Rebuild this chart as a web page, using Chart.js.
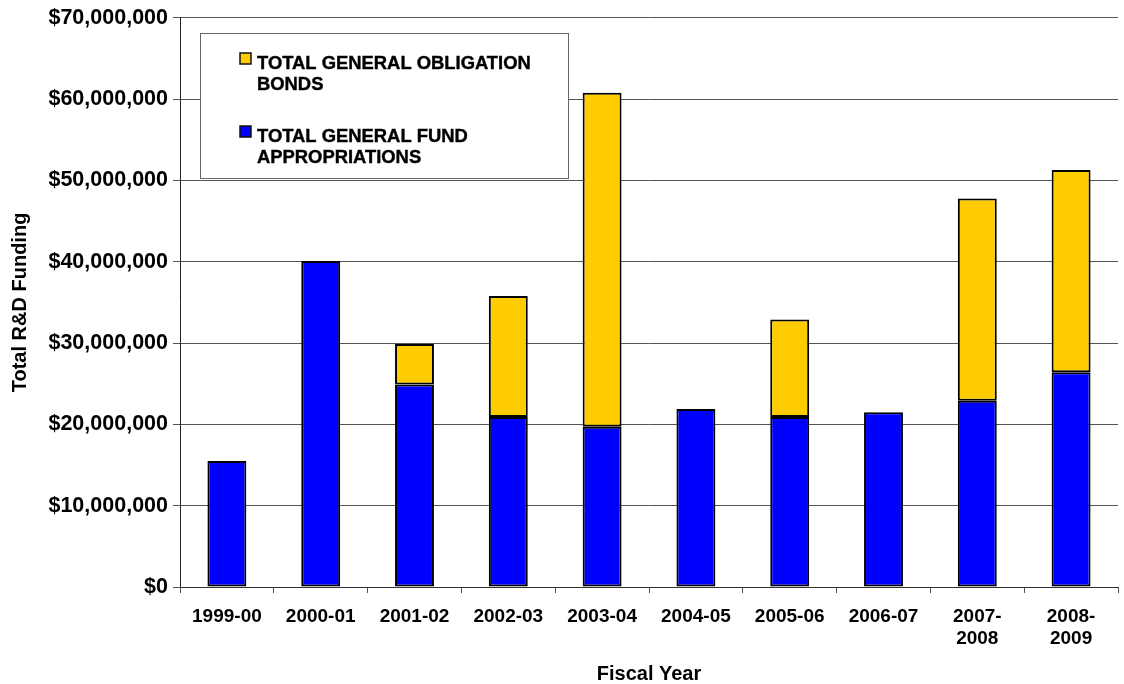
<!DOCTYPE html>
<html>
<head>
<meta charset="utf-8">
<script src="https://cdn.jsdelivr.net/npm/chart.js@4.4.1/dist/chart.umd.min.js"></script>
<style>
  html, body { margin: 0; padding: 0; background: #fff; }
  #wrap { width: 1124px; height: 684px; }
</style>
</head>
<body>
<div id="wrap"><canvas id="rdChart" width="1124" height="684"></canvas></div>
<script>
// data
const fiscalYears = ['1999-00', '2000-01', '2001-02', '2002-03', '2003-04',
  '2004-05', '2005-06', '2006-07', ['2007-', '2008'], ['2008-', '2009']];
const generalFund = [15500000, 40100000, 24900000, 20900000, 19700000,
  21900000, 20900000, 21500000, 22900000, 26400000];
const obligationBonds = [null, null, 5000000, 14900000, 41100000,
  null, 12000000, null, 24900000, 24900000];
const yTicks = [0, 10000000, 20000000, 30000000, 40000000, 50000000, 60000000, 70000000];

const FONT = "'Liberation Sans', Arial, sans-serif";

// boxed legend in the top left of the plot, bonds listed first
const boxLegend = {
  id: 'boxLegend',
  afterDraw(chart) {
    const ctx = chart.ctx;
    const x0 = 200, y0 = 33, w = 368, h = 145;
    ctx.save();
    ctx.fillStyle = '#fff';
    ctx.fillRect(x0, y0, w, h);
    ctx.strokeStyle = '#666';
    ctx.lineWidth = 1;
    ctx.strokeRect(x0 + 0.5, y0 + 0.5, w, h);

    ctx.font = 'bold 18.4px ' + FONT;
    ctx.textBaseline = 'alphabetic';
    const items = chart.data.datasets.slice().reverse();
    items.forEach((ds, i) => {
      const top = 53 + i * 73;
      ctx.fillStyle = ds.backgroundColor;
      ctx.fillRect(240, top, 11, 11);
      ctx.strokeStyle = '#111';
      ctx.lineWidth = 1.5;
      ctx.strokeRect(240, top, 11, 11);
      // wrap the label
      const words = ds.label.split(' ');
      const lines = [];
      let line = '';
      words.forEach((wd) => {
        const test = line ? line + ' ' + wd : wd;
        if (ctx.measureText(test).width > 290 && line) {
          lines.push(line);
          line = wd;
        } else {
          line = test;
        }
      });
      lines.push(line);
      ctx.fillStyle = '#000';
      ctx.strokeStyle = '#000';
      ctx.lineWidth = 0.4;
      lines.forEach((ln, j) => {
        ctx.fillText(ln, 257, top + 16 + j * 21);
        ctx.strokeText(ln, 257, top + 16 + j * 21);
      });
    });
    ctx.restore();
  },
};

const ctx = document.querySelector('#rdChart').getContext('2d');
const rdChart = new Chart(ctx, {
  type: 'bar',
  data: {
    labels: fiscalYears,
    datasets: [{
      label: 'TOTAL GENERAL FUND APPROPRIATIONS',
      data: generalFund,
      backgroundColor: '#0000FF',
      borderColor: '#000',
      borderWidth: 2,
      borderSkipped: false,
      categoryPercentage: 1,
      barPercentage: 0.415,
    }, {
      label: 'TOTAL GENERAL OBLIGATION BONDS',
      data: obligationBonds,
      backgroundColor: '#FFCC00',
      borderColor: '#000',
      borderWidth: 2,
      borderSkipped: false,
      categoryPercentage: 1,
      barPercentage: 0.415,
    }],
  },
  options: {
    responsive: false,
    animation: false,
    layout: { padding: { top: 17, right: 6, left: 0, bottom: 0 } },
    plugins: {
      legend: { display: false },
      tooltip: { enabled: false },
    },
    scales: {
      x: {
        stacked: true,
        afterFit: (scale) => { scale.height = 97; },
        grid: {
          display: true,
          drawOnChartArea: false,
          offset: true,
          color: '#555',
          tickLength: 6,
        },
        border: { color: '#333', width: 1 },
        ticks: {
          color: '#000',
          padding: 12,
          maxRotation: 0,
          autoSkip: false,
          font: { family: FONT, size: 19, weight: 'bold', lineHeight: 1.2 },
        },
        title: {
          display: true,
          text: 'Fiscal Year',
          color: '#000',
          padding: { top: 0, bottom: 0 },
          font: { family: FONT, size: 20, weight: 'bold', lineHeight: 1.0 },
        },
      },
      y: {
        stacked: true,
        min: 0,
        max: 70000000,
        afterFit: (scale) => { scale.width = 180; },
        afterBuildTicks: (scale) => { scale.ticks = yTicks.map((v) => ({ value: v })); },
        grid: { color: '#555', tickLength: 7 },
        border: { color: '#222', width: 1 },
        ticks: {
          color: '#000',
          padding: 5,
          font: { family: FONT, size: 21.5, weight: 'bold' },
          callback: (v) => '$' + Number(v).toLocaleString('en-US'),
        },
        title: {
          display: true,
          text: 'Total R&D Funding',
          color: '#000',
          padding: { top: 10, bottom: 0 },
          font: { family: FONT, size: 20, weight: 'bold', lineHeight: 1.0 },
        },
      },
    },
  },
  plugins: [boxLegend],
});
</script>
</body>
</html>
